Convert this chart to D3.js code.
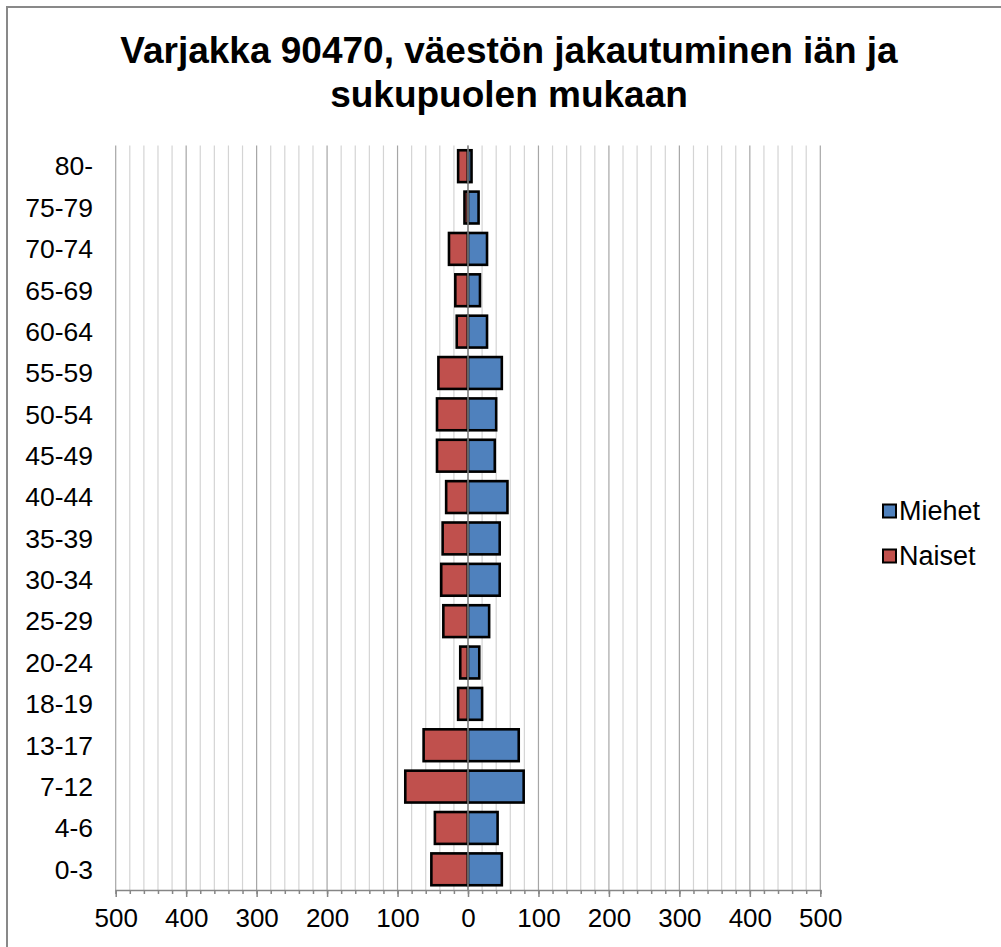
<!DOCTYPE html>
<html>
<head>
<meta charset="utf-8">
<script src="https://cdn.jsdelivr.net/npm/d3@7"></script>
<style>
  body { margin: 0; background: #fff; }
  text { font-family: Arial, "Liberation Sans", sans-serif; fill: #000; }
</style>
</head>
<body>
<div id="main"></div>
<script>
// age groups, bottom to top as in the chart
var ageGroups = ["0-3", "4-6", "7-12", "13-17", "18-19", "20-24", "25-29", "30-34", "35-39",
                 "40-44", "45-49", "50-54", "55-59", "60-64", "65-69", "70-74", "75-79", "80-"];
var miehet = [48, 42, 79, 72, 20, 16, 30, 45, 45, 56, 38, 40, 48, 27, 17, 27, 15, 5];
var naiset = [52, 47, 89, 63, 14, 11, 35, 38, 36, 31, 44, 44, 42, 16, 18, 27, 5, 14];
var majorTicks = [-500, -400, -300, -200, -100, 0, 100, 200, 300, 400, 500];
var seriesNames = ["Miehet", "Naiset"];
var titleLines = ["Varjakka 90470, väestön jakautuminen iän ja", "sukupuolen mukaan"];

var ctx = {
    w: 1001,
    h: 947,
    left: 115.7,
    right: 820.3,
    top: 145.5,
    bottom: 890,
    blue: "#4F81BD",
    red: "#C0504D",
    axisColor: "#868686"
};

var createViz = function(){
    var svg = d3.select("#main").append("svg")
        .attr("width", ctx.w)
        .attr("height", ctx.h);

    // outer chart border
    svg.append("rect")
        .attr("x", 7).attr("y", 7)
        .attr("width", ctx.w + 20).attr("height", ctx.h + 20)
        .attr("fill", "#fff")
        .attr("stroke", "#898989")
        .attr("stroke-width", 2);

    // title
    svg.append("g").selectAll("text")
        .data(titleLines)
        .enter().append("text")
        .attr("x", 509)
        .attr("y", function(d, i){ return 63 + i * 44; })
        .attr("text-anchor", "middle")
        .style("font-size", "37px")
        .style("font-weight", "bold")
        .text(function(d){ return d; });

    ctx.xScale = d3.scaleLinear().domain([-500, 500]).range([ctx.left, ctx.right]);
    ctx.yScale = d3.scaleBand().domain(ageGroups.slice().reverse())
        .range([ctx.top, ctx.bottom])
        .paddingInner(0.23)
        .paddingOuter(0.115);

    var minorTicks = d3.range(-500, 501, 20);

    // gridlines
    var grid = svg.append("g");
    grid.selectAll("line")
        .data(minorTicks)
        .enter().append("line")
        .attr("x1", function(d){ return ctx.xScale(d); })
        .attr("x2", function(d){ return ctx.xScale(d); })
        .attr("y1", ctx.top)
        .attr("y2", ctx.bottom)
        .attr("stroke", function(d){ return d % 100 === 0 ? "#a6a6a6" : "#d4d4d4"; })
        .attr("stroke-width", 1.2);

    // bars
    var rows = ageGroups.map(function(a, i){ return {age: a, m: miehet[i], n: naiset[i]}; });
    var bh = ctx.yScale.bandwidth();
    var bars = svg.append("g");
    bars.selectAll("rect.naiset")
        .data(rows)
        .enter().append("rect")
        .attr("class", "naiset")
        .attr("x", function(d){ return ctx.xScale(-d.n); })
        .attr("y", function(d){ return ctx.yScale(d.age); })
        .attr("width", function(d){ return ctx.xScale(0) - ctx.xScale(-d.n); })
        .attr("height", bh)
        .attr("fill", ctx.red)
        .attr("stroke", "#000")
        .attr("stroke-width", 2.6);
    bars.selectAll("rect.miehet")
        .data(rows)
        .enter().append("rect")
        .attr("class", "miehet")
        .attr("x", ctx.xScale(0))
        .attr("y", function(d){ return ctx.yScale(d.age); })
        .attr("width", function(d){ return ctx.xScale(d.m) - ctx.xScale(0); })
        .attr("height", bh)
        .attr("fill", ctx.blue)
        .attr("stroke", "#000")
        .attr("stroke-width", 2.6);

    // vertical category axis at zero
    svg.append("line")
        .attr("x1", ctx.xScale(0)).attr("x2", ctx.xScale(0))
        .attr("y1", ctx.top).attr("y2", ctx.bottom)
        .attr("stroke", ctx.axisColor)
        .attr("stroke-width", 1.5);

    // category labels
    svg.append("g").selectAll("text")
        .data(ageGroups)
        .enter().append("text")
        .attr("x", 93)
        .attr("y", function(d){ return ctx.yScale(d) + bh / 2; })
        .attr("dy", "0.35em")
        .attr("text-anchor", "end")
        .style("font-size", "26.5px")
        .text(function(d){ return d; });

    // bottom value axis: minor ticks, then major ticks with labels
    var axisG = svg.append("g").attr("transform", "translate(0," + ctx.bottom + ")");
    axisG.append("g")
        .call(d3.axisBottom(ctx.xScale).tickValues(minorTicks).tickSize(4).tickFormat(""))
        .call(function(g){ g.selectAll("line, path").attr("stroke", ctx.axisColor).attr("stroke-width", 1.5); });
    axisG.append("g")
        .call(d3.axisBottom(ctx.xScale).tickValues(majorTicks).tickSize(7).tickSizeOuter(0).tickPadding(12)
              .tickFormat(function(d){ return Math.abs(d); }))
        .call(function(g){
            g.select(".domain").remove();
            g.selectAll("line").attr("stroke", ctx.axisColor).attr("stroke-width", 1.5);
            g.selectAll("text")
                .style("font-size", "26px")
                .style("font-family", "Arial, 'Liberation Sans', sans-serif")
                .attr("fill", "#000");
        });

    // legend
    var legend = svg.append("g").selectAll("g")
        .data(seriesNames)
        .enter().append("g")
        .attr("transform", function(d, i){ return "translate(883," + (511 + i * 45) + ")"; });
    legend.append("rect")
        .attr("x", 0).attr("y", -6.5)
        .attr("width", 13).attr("height", 13)
        .attr("fill", function(d){ return d === "Miehet" ? ctx.blue : ctx.red; })
        .attr("stroke", "#000")
        .attr("stroke-width", 2);
    legend.append("text")
        .attr("x", 16)
        .attr("y", 0)
        .attr("dy", "0.35em")
        .style("font-size", "27px")
        .text(function(d){ return d; });
};

createViz();
</script>
</body>
</html>
